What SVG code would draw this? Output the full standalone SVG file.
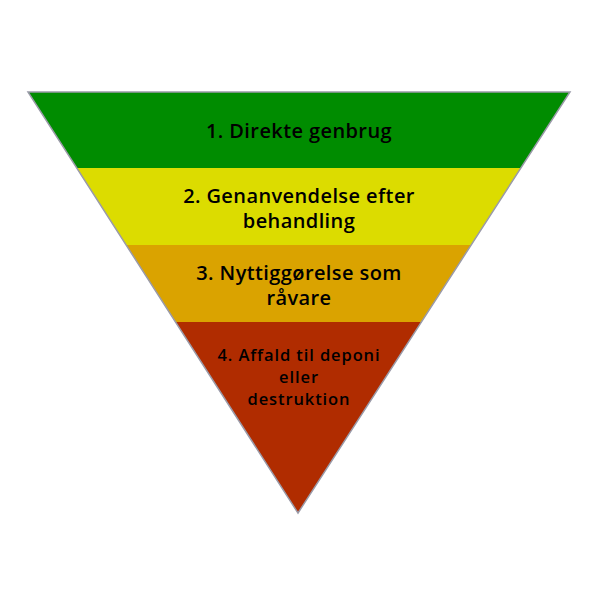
<svg xmlns="http://www.w3.org/2000/svg" width="600" height="600" viewBox="0 0 600 600">
<style>
.t{font-family:"Open Sans","DejaVu Sans",sans-serif;font-weight:600;fill:#000;text-anchor:middle}
.big{font-size:20px;letter-spacing:0.4px}
.small{font-size:16.5px;letter-spacing:0.9px}
</style>
<defs>
<clipPath id="tri"><polygon points="28,92 570,92 298,513"/></clipPath>
</defs>
<rect width="600" height="600" fill="#fff"/>
<g clip-path="url(#tri)">
<g id="level1"><rect x="0" y="92" width="600" height="76" fill="#008c00"/></g>
<g id="level2"><rect x="0" y="168" width="600" height="77" fill="#dcdc00"/></g>
<g id="level3"><rect x="0" y="245" width="600" height="77" fill="#daa300"/></g>
<g id="level4"><rect x="0" y="322" width="600" height="192" fill="#b02c00"/></g>
</g>
<polygon points="28,92 570,92 298,513" fill="none" stroke="#9a9aa8" stroke-width="1.5" stroke-linejoin="miter"/>
<g id="labels">
<text class="t big" x="299" y="138">1. Direkte genbrug</text>
<text class="t big" x="299" y="203">2. Genanvendelse efter</text>
<text class="t big" x="299" y="228">behandling</text>
<text class="t big" x="299" y="280">3. Nyttiggørelse som</text>
<text class="t big" x="299" y="305">råvare</text>
<text class="t small" x="299" y="361">4. Affald til deponi</text>
<text class="t small" x="299" y="383">eller</text>
<text class="t small" x="299" y="405">destruktion</text>
</g>
</svg>
